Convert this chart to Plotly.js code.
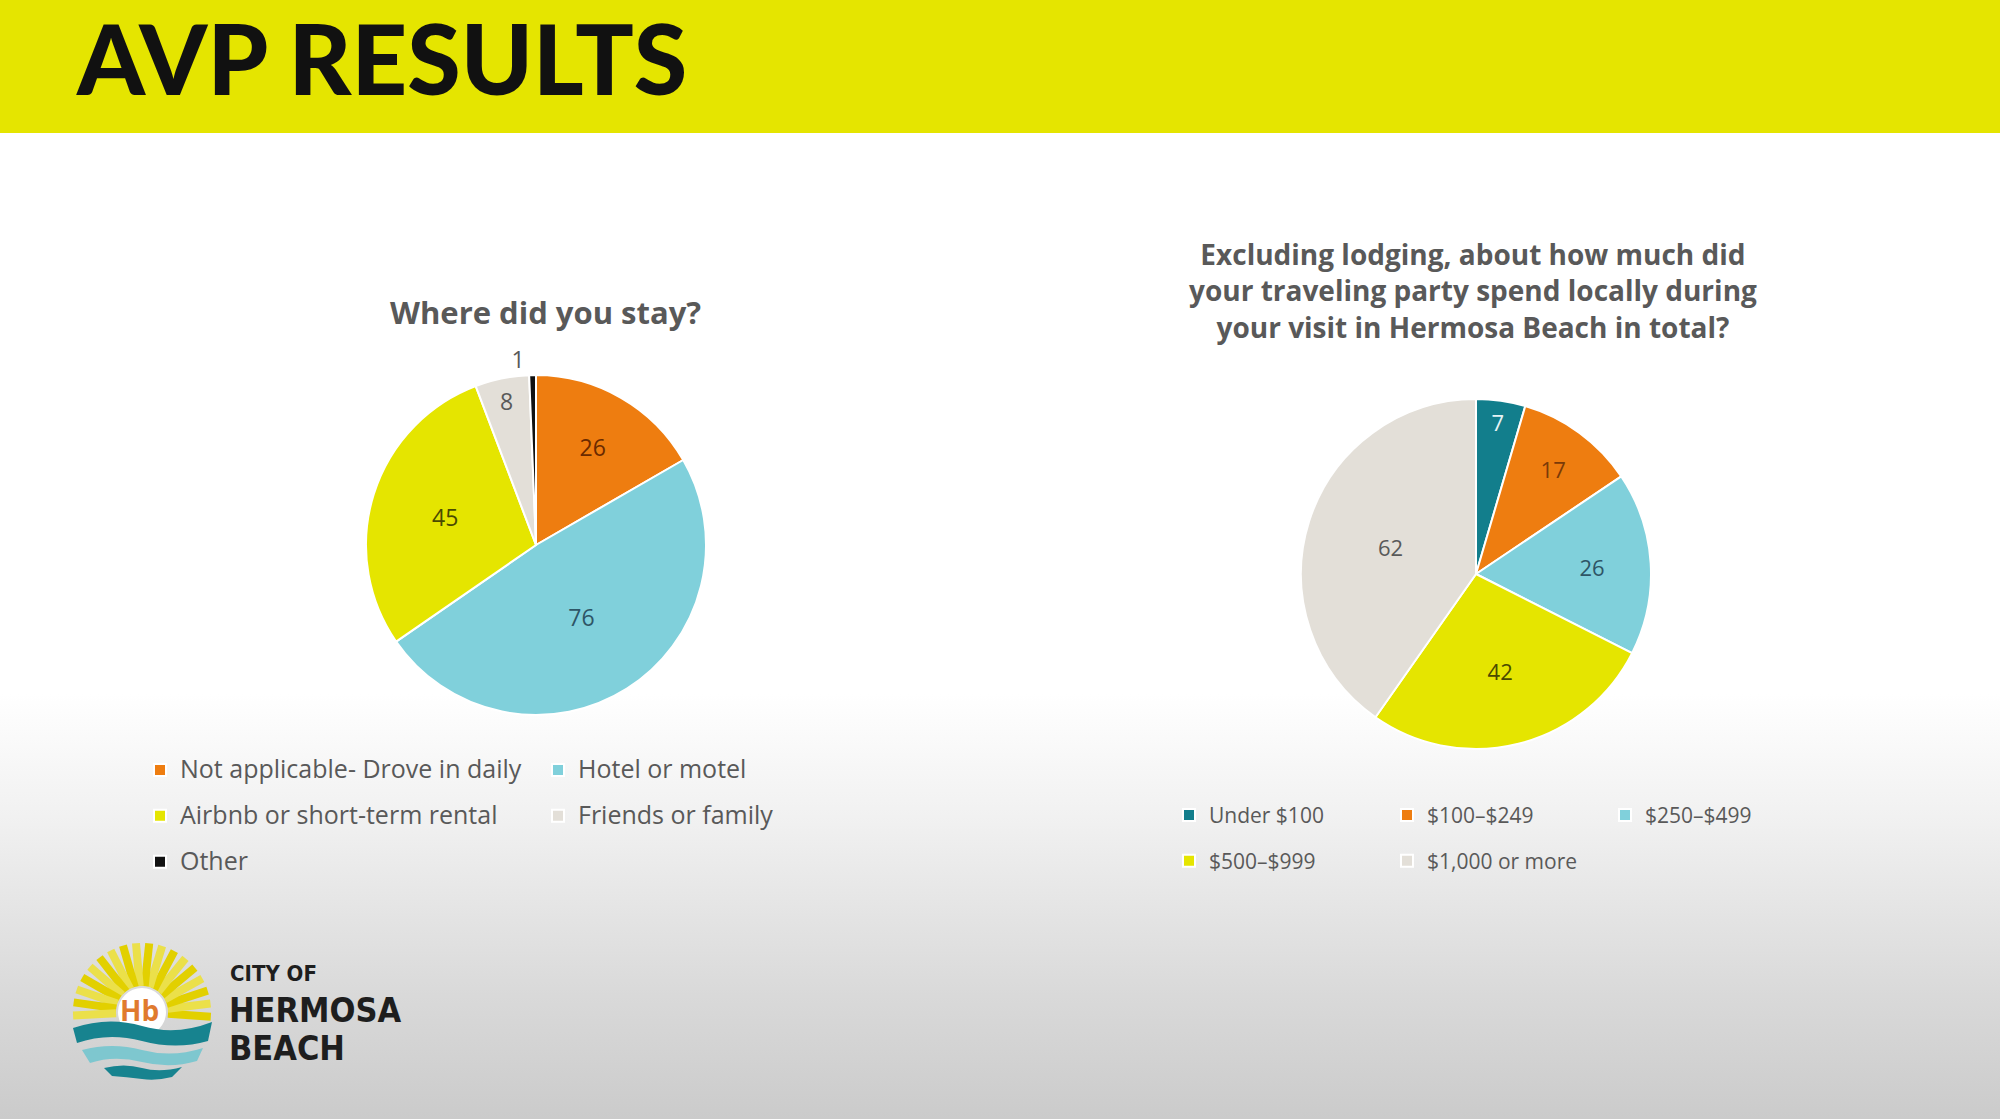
<!DOCTYPE html>
<html>
<head>
<meta charset="utf-8">
<script src="https://cdn.plot.ly/plotly-3.0.1.min.js"></script>
<style>
  html, body { margin: 0; padding: 0; width: 2000px; height: 1119px; overflow: hidden; }
  body { background: linear-gradient(to bottom, #ffffff 0%, #ffffff 62%, #f1f1f1 73%, #d9d9d9 89%, #cbcbcb 100%); position: relative; }
  .layer { position: absolute; top: 0; height: 1119px; }
  #bg { left: 0; width: 2000px; }
  #left { left: 0; width: 1000px; }
  #right { left: 1150px; width: 850px; }
</style>
</head>
<body>
<div id="bg" class="layer"></div>
<div id="left" class="layer"></div>
<div id="right" class="layer"></div>
<script>
// ---------------- DATA ----------------
const pageTitle = "AVP RESULTS";

const stayTitle = "Where did you stay?";
const stayLabels = ["Not applicable- Drove in daily", "Hotel or motel", "Airbnb or short-term rental", "Friends or family", "Other"];
const stayValues = [26, 76, 45, 8, 1];

const spendTitle = "Excluding lodging, about how much did<br>your traveling party spend locally during<br>your visit in Hermosa Beach in total?";
const spendLabels = ["Under $100", "$100–$249", "$250–$499", "$500–$999", "$1,000 or more"];
const spendValues = [7, 17, 26, 42, 62];

const logoLines = ["CITY OF", "HERMOSA", "BEACH"];

// ---------------- STYLES ----------------
const stayColors = ["#EE7D10", "#80D0DB", "#E5E500", "#E3DFD8", "#111111"];
const stayTextColors = ["#6A2A00", "#2E5566", "#4A4A00", "#595959", "#595959"];
const stayTextPos = ["inside", "inside", "inside", "inside", "outside"];
const spendColors = ["#127E8C", "#EE7D10", "#80D0DB", "#E5E500", "#E3DFD8"];
const spendTextColors = ["#E6F3F5", "#7A3A08", "#2E5566", "#4A4A00", "#595959"];

const FONT = "'Open Sans', 'Noto Sans', sans-serif";
const TEXT_GRAY = "#595959";
const cfg = { staticPlot: true, displayModeBar: false };

function legendLabel(s, size, shift) {
  return '<span style="font-size:' + size + 'px;baseline-shift:' + shift + 'px">' + s + '</span>';
}

// ---------------- BACKGROUND (header + logo) ----------------
(function () {
  const W = 2000, H = 1119;
  const px = x => x / W, py = y => 1 - y / H;
  const pt = (x, y) => px(x) + ',' + py(y);
  const shapes = [];
  shapes.push({ type: 'rect', xref: 'paper', yref: 'paper', x0: 0, x1: 1, y0: py(133), y1: 1,
    fillcolor: '#E5E500', line: { width: 0 } });

  // sun rays
  const cx = 142, cy = 1012;
  let k = 0;
  for (let a = -4; a <= 184; a += 11) {
    const r = a * Math.PI / 180;
    shapes.push({ type: 'line', xref: 'paper', yref: 'paper',
      x0: px(cx + 26 * Math.cos(r)), y0: py(cy - 26 * Math.sin(r)),
      x1: px(cx + 69 * Math.cos(r)), y1: py(cy - 69 * Math.sin(r)),
      line: { color: (k++ % 2) ? '#EBE04A' : '#E2D000', width: 8 } });
  }
  shapes.push({ type: 'circle', xref: 'paper', yref: 'paper',
    x0: px(cx - 24), x1: px(cx + 24), y0: py(cy + 24), y1: py(cy - 24),
    fillcolor: '#ffffff', line: { width: 0 } });
  // waves
  shapes.push({ type: 'path', xref: 'paper', yref: 'paper', fillcolor: '#17838F', line: { width: 0 },
    path: 'M' + pt(73, 1028) + ' Q' + pt(108, 1016) + ' ' + pt(142, 1026) + ' Q' + pt(176, 1036) + ' ' + pt(212, 1022) +
      ' L' + pt(208, 1041) + ' Q' + pt(176, 1050) + ' ' + pt(142, 1041) + ' Q' + pt(108, 1032) + ' ' + pt(77, 1043) + ' Z' });
  shapes.push({ type: 'path', xref: 'paper', yref: 'paper', fillcolor: '#7EC7CF', line: { width: 0 },
    path: 'M' + pt(82, 1050) + ' Q' + pt(112, 1042) + ' ' + pt(142, 1050) + ' Q' + pt(172, 1058) + ' ' + pt(203, 1048) +
      ' L' + pt(197, 1061) + ' Q' + pt(170, 1069) + ' ' + pt(142, 1062) + ' Q' + pt(114, 1055) + ' ' + pt(90, 1063) + ' Z' });
  shapes.push({ type: 'path', xref: 'paper', yref: 'paper', fillcolor: '#17838F', line: { width: 0 },
    path: 'M' + pt(104, 1068) + ' Q' + pt(124, 1063) + ' ' + pt(142, 1068) + ' Q' + pt(160, 1073) + ' ' + pt(182, 1067) +
      ' L' + pt(172, 1077) + ' Q' + pt(156, 1081) + ' ' + pt(142, 1079) + ' Q' + pt(126, 1077) + ' ' + pt(112, 1076) + ' Z' });

  const condensed = "'Liberation Sans Narrow', 'DejaVu Sans Condensed', 'Roboto', sans-serif";
  const annotations = [
    { text: pageTitle, xref: 'paper', yref: 'paper', x: px(74), y: py(58), xanchor: 'left', yanchor: 'middle',
      showarrow: false, font: { family: "Lato, 'Open Sans', sans-serif", size: 97, weight: 900, color: '#111111' } },
    { text: 'Hb', xref: 'paper', yref: 'paper', x: px(139), y: py(1010), xanchor: 'center', yanchor: 'middle',
      showarrow: false, font: { family: FONT, size: 28, weight: 700, color: '#E07A2E' } },
    { text: logoLines[0], xref: 'paper', yref: 'paper', x: px(228), y: py(973), xanchor: 'left', yanchor: 'middle',
      showarrow: false, font: { family: condensed, size: 22, weight: 700, color: '#1E1E1E' } },
    { text: logoLines[1], xref: 'paper', yref: 'paper', x: px(227), y: py(1010), xanchor: 'left', yanchor: 'middle',
      showarrow: false, font: { family: condensed, size: 34, weight: 700, color: '#1E1E1E' } },
    { text: logoLines[2], xref: 'paper', yref: 'paper', x: px(227), y: py(1048), xanchor: 'left', yanchor: 'middle',
      showarrow: false, font: { family: condensed, size: 34, weight: 700, color: '#1E1E1E' } }
  ];
  Plotly.newPlot('bg', [], {
    width: W, height: H, margin: { l: 0, r: 0, t: 0, b: 0 },
    paper_bgcolor: 'rgba(0,0,0,0)', plot_bgcolor: 'rgba(0,0,0,0)',
    xaxis: { visible: false }, yaxis: { visible: false },
    shapes: shapes, annotations: annotations, showlegend: false
  }, cfg);
})();

// ---------------- LEFT PIE ----------------
(function () {
  const W = 1000, H = 1119, OX = 0;
  const px = x => (x - OX) / W, py = y => 1 - y / H;
  const trace = {
    type: 'pie',
    labels: stayLabels.map(s => legendLabel(s, 25, 5)),
    values: stayValues,
    sort: false,
    direction: 'clockwise',
    rotation: 0,
    marker: { colors: stayColors, line: { color: '#ffffff', width: 2 } },
    textinfo: 'value',
    textposition: stayTextPos,
    insidetextorientation: 'horizontal',
    insidetextfont: { family: FONT, size: 23, color: stayTextColors },
    outsidetextfont: { family: FONT, size: 23, color: TEXT_GRAY },
    domain: { x: [px(366), px(706)], y: [py(715), py(375)] },
    hoverinfo: 'skip'
  };
  Plotly.newPlot('left', [trace], {
    width: W, height: H, margin: { l: 0, r: 0, t: 0, b: 0 },
    paper_bgcolor: 'rgba(0,0,0,0)', plot_bgcolor: 'rgba(0,0,0,0)',
    showlegend: true,
    legend: { orientation: 'h', x: px(140), y: py(742), xanchor: 'left', yanchor: 'top',
      entrywidth: 353, traceorder: 'normal', bgcolor: 'rgba(0,0,0,0)',
      font: { family: FONT, size: 33, color: TEXT_GRAY } },
    annotations: [{ text: stayTitle, xref: 'paper', yref: 'paper', x: px(545), y: py(312),
      xanchor: 'center', yanchor: 'middle', showarrow: false,
      font: { family: FONT, size: 31, weight: 700, color: TEXT_GRAY } }]
  }, cfg);
})();

// ---------------- RIGHT PIE ----------------
(function () {
  const W = 850, H = 1119, OX = 1150;
  const px = x => (x - OX) / W, py = y => 1 - y / H;
  const trace = {
    type: 'pie',
    labels: spendLabels.map(s => legendLabel(s, 21, 5)),
    values: spendValues,
    sort: false,
    direction: 'clockwise',
    rotation: 0,
    marker: { colors: spendColors, line: { color: '#ffffff', width: 2 } },
    textinfo: 'value',
    textposition: 'inside',
    insidetextorientation: 'horizontal',
    insidetextfont: { family: FONT, size: 22, color: spendTextColors },
    domain: { x: [px(1301), px(1651)], y: [py(749), py(399)] },
    hoverinfo: 'skip'
  };
  Plotly.newPlot('right', [trace], {
    width: W, height: H, margin: { l: 0, r: 0, t: 0, b: 0 },
    paper_bgcolor: 'rgba(0,0,0,0)', plot_bgcolor: 'rgba(0,0,0,0)',
    showlegend: true,
    legend: { orientation: 'h', x: px(1169), y: py(787), xanchor: 'left', yanchor: 'top',
      entrywidth: 173, traceorder: 'normal', bgcolor: 'rgba(0,0,0,0)',
      font: { family: FONT, size: 33, color: TEXT_GRAY } },
    annotations: [{ text: spendTitle, xref: 'paper', yref: 'paper', x: px(1473), y: py(290),
      xanchor: 'center', yanchor: 'middle', showarrow: false,
      font: { family: FONT, size: 28, weight: 700, color: TEXT_GRAY } }]
  }, cfg);
})();
</script>
</body>
</html>
